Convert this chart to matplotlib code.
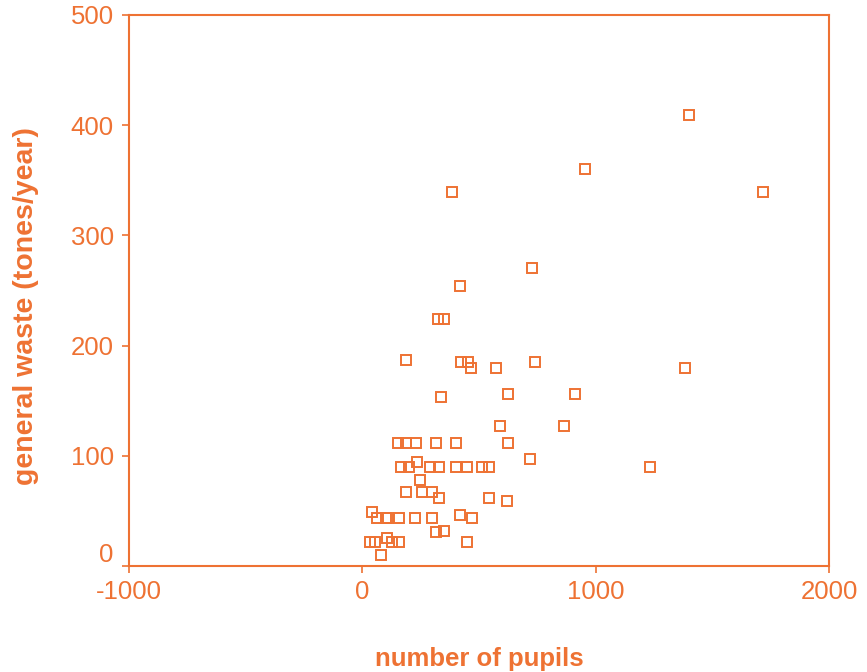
import numpy as np
import matplotlib
matplotlib.use("Agg")
import matplotlib.pyplot as plt
import matplotlib.transforms as mtransforms

# number of pupils vs general waste (tones/year)
pupils = [1400, 955, 1715, 385, 729, 419, 325, 350, 189, 424, 453, 464, 573,
          738, 339, 624, 910, 1381, 864, 590, 624, 717, 1231, 618,
          153, 189, 228, 314, 400,
          164, 200, 234, 291, 327, 400, 447, 513, 543,
          246, 189, 257, 297, 327, 543,
          42, 64, 100, 110, 156, 224, 297, 419, 470,
          34, 53, 104, 127, 156, 314, 350, 447, 80]
waste = [409, 360, 339, 339, 270, 254, 224, 224, 187, 185, 185, 180, 180,
         185, 153, 156, 156, 180, 127, 127, 112, 97, 90, 59,
         112, 112, 112, 112, 112,
         90, 90, 94, 90, 90, 90, 90, 90, 90,
         78, 67, 67, 67, 62, 62,
         49, 44, 44, 44, 44, 44, 44, 46, 44,
         22, 22, 25, 22, 22, 31, 32, 22, 10]

orange = '#EE7233'
plt.rcParams['font.family'] = ['Liberation Sans', 'DejaVu Sans']
plt.rcParams['axes.unicode_minus'] = False

fig = plt.figure(figsize=(8.67, 6.72), dpi=100)
ax = fig.add_axes([0.1488, 0.1577, 0.9562 - 0.1488, 0.9777 - 0.1577])

ax.plot(pupils, waste, linestyle='none', marker='s', markersize=6.5,
        markerfacecolor='none', markeredgecolor=orange, markeredgewidth=1.4)

ax.set_xlim(-1000, 2000)
ax.set_ylim(0, 500)
ax.set_xticks([-1000, 0, 1000, 2000])
ax.set_yticks([0, 100, 200, 300, 400, 500])

for s in ax.spines.values():
    s.set_color(orange)
    s.set_linewidth(1.5)
ax.tick_params(colors=orange, labelsize=18.5, length=5, width=1.2, pad=5)
ax.tick_params(axis='y', pad=6)

# the "0" on the y axis sits a little above its tick in the original
for lab in ax.get_yticklabels():
    if lab.get_text() == '0':
        lab.set_transform(lab.get_transform() +
                          mtransforms.ScaledTranslation(0, 14 / 100, fig.dpi_scale_trans))

ax.set_xlabel('number of pupils', color=orange, fontsize=18.5, fontweight='bold', labelpad=31)
ax.set_ylabel('general waste (tones/year)', color=orange, fontsize=20.5, fontweight='bold')
ax.yaxis.set_label_coords(-0.129, 0.472)

fig.savefig('out.png', dpi=100)
